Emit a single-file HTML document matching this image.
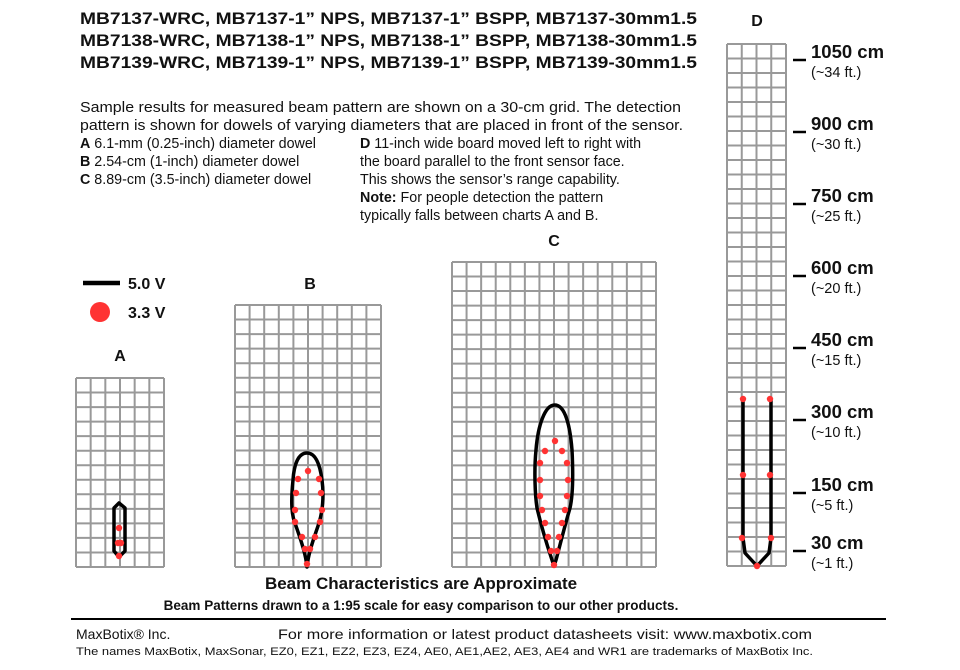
<!DOCTYPE html>
<html><head><meta charset="utf-8"><style>
html,body{margin:0;padding:0;background:#fff;}
svg{display:block;font-family:"Liberation Sans",Arial,sans-serif;}
</style></head><body>
<svg id="s" width="960" height="670" viewBox="0 0 960 670" xmlns="http://www.w3.org/2000/svg">
<g font-weight="bold" font-size="16.5" fill="#111">
<text x="80" y="24" textLength="617" lengthAdjust="spacingAndGlyphs">MB7137-WRC, MB7137-1” NPS, MB7137-1” BSPP, MB7137-30mm1.5</text>
<text x="80" y="46" textLength="617" lengthAdjust="spacingAndGlyphs">MB7138-WRC, MB7138-1” NPS, MB7138-1” BSPP, MB7138-30mm1.5</text>
<text x="80" y="68" textLength="617" lengthAdjust="spacingAndGlyphs">MB7139-WRC, MB7139-1” NPS, MB7139-1” BSPP, MB7139-30mm1.5</text>
</g>
<g font-size="14.3" fill="#111">
<text x="80" y="112" textLength="601" lengthAdjust="spacingAndGlyphs">Sample results for measured beam pattern are shown on a 30-cm grid. The detection</text>
<text x="80" y="130" textLength="603" lengthAdjust="spacingAndGlyphs">pattern is shown for dowels of varying diameters that are placed in front of the sensor.</text>
<text x="80" y="148"><tspan font-weight="bold">A</tspan> 6.1-mm (0.25-inch) diameter dowel</text>
<text x="80" y="166"><tspan font-weight="bold">B</tspan> 2.54-cm (1-inch) diameter dowel</text>
<text x="80" y="184"><tspan font-weight="bold">C</tspan> 8.89-cm (3.5-inch) diameter dowel</text>
<text x="360" y="148"><tspan font-weight="bold">D</tspan> 11-inch wide board moved left to right with</text>
<text x="360" y="166">the board parallel to the front sensor face.</text>
<text x="360" y="184">This shows the sensor’s range capability.</text>
<text x="360" y="202"><tspan font-weight="bold">Note:</tspan> For people detection the pattern</text>
<text x="360" y="220">typically falls between charts A and B.</text>
</g>
<g font-weight="bold" font-size="16" fill="#111">
<text x="120" y="361" text-anchor="middle">A</text>
<text x="310" y="289" text-anchor="middle">B</text>
<text x="554" y="246" text-anchor="middle">C</text>
<text x="757" y="26" text-anchor="middle">D</text>
<text x="128" y="289">5.0 V</text>
<text x="128" y="318">3.3 V</text>
</g>
<line x1="83" y1="283" x2="120" y2="283" stroke="#000" stroke-width="4.5"/>
<circle cx="100" cy="312" r="10" fill="#f33"/>
<g id="grids" stroke="#999" stroke-width="2" fill="none"></g>
<g id="ticks"></g>
<g fill="none" stroke="#000" stroke-width="3.5" stroke-linejoin="round">
<path d="M114,508 L119,503 L125,508 L125,551 L119,557 L114,551 Z"/>
<path d="M307,453 C298,453 294,465 293,480 C291,500 291,515 296,526 C300,538 304,548 306,560 L307,567 L308,560 C310,548 314,538 318,526 C323,512 324,495 322,480 C320,465 316,453 307,453 Z"/>
<path d="M554.7,405 C545,405 538,425 536,450 C534,470 535,495 537,508 C541,525 547,545 552,560 L554,566 L556,560 C560,545 565,525 570,508 C573,495 573,470 572,450 C570,425 565,405 554.7,405 Z"/>
<path d="M743,399 L743,538 L745,553 L757,566 L769,553 L771,538 L771,399"/>
</g>
<g fill="#f33" id="dots"></g>
<g font-weight="bold" fill="#111">
<text x="421" y="589" font-size="17" text-anchor="middle">Beam Characteristics are Approximate</text>
<text x="421" y="610" font-size="13.5" text-anchor="middle">Beam Patterns drawn to a 1:95 scale for easy comparison to our other products.</text>
</g>
<line x1="71" y1="619" x2="886" y2="619" stroke="#000" stroke-width="2"/>
<g fill="#111">
<text x="76" y="639" font-size="14">MaxBotix® Inc.</text>
<text x="278" y="639" font-size="14" textLength="534" lengthAdjust="spacingAndGlyphs">For more information or latest product datasheets visit:  www.maxbotix.com</text>
<text x="76" y="655" font-size="11" textLength="737" lengthAdjust="spacingAndGlyphs">The names MaxBotix, MaxSonar, EZ0, EZ1, EZ2, EZ3, EZ4, AE0, AE1,AE2, AE3, AE4 and WR1 are trademarks of MaxBotix Inc.</text>
</g>
<script>
var NS="http://www.w3.org/2000/svg";
function el(p,t,a,txt){var e=document.createElementNS(NS,t);for(var k in a)e.setAttribute(k,a[k]);if(txt)e.textContent=txt;p.appendChild(e);return e;}
var g=document.getElementById('grids');
function grid(x0,x1,y0,y1,nx,ny){var d='';for(var i=0;i<=nx;i++){var x=x0+(x1-x0)*i/nx;d+='M'+x+','+y0+'V'+y1;}for(var j=0;j<=ny;j++){var y=y0+(y1-y0)*j/ny;d+='M'+x0+','+y+'H'+x1;}el(g,'path',{d:d});}
grid(76,164,378,567,6,13);
grid(235,381,305,567,10,18);
grid(452,656,262,567,14,21);
grid(727,786,44,566,4,36);
var tk=document.getElementById('ticks');
var T=[[58,'1050 cm','(~34 ft.)'],[130,'900 cm','(~30 ft.)'],[202,'750 cm','(~25 ft.)'],[274,'600 cm','(~20 ft.)'],[346,'450 cm','(~15 ft.)'],[418,'300 cm','(~10 ft.)'],[491,'150 cm','(~5 ft.)'],[549,'30 cm','(~1 ft.)']];
T.forEach(function(t){el(tk,'line',{x1:793,x2:806,y1:t[0]+2,y2:t[0]+2,stroke:'#000','stroke-width':2.5});
el(tk,'text',{x:811,y:t[0],'font-size':18.5,'font-weight':'bold',fill:'#111'},t[1]);
el(tk,'text',{x:811,y:t[0]+19,'font-size':14.5,fill:'#111'},t[2]);});
var D=[[119,528],[118,543],[121,543],[119,556],
[308,471],[298,479],[319,479],[296,493],[321,493],[295,510],[322,510],[295,522],[320,522],[302,537],[315,537],[305,549],[310,549],[307,564],
[555,441],[545,451],[562,451],[540,463],[567,463],[540,480],[568,480],[540,496],[567,496],[542,510],[565,510],[545,523],[562,523],[548,537],[559,537],[551,551],[557,551],[554,565],
[743,399],[770,399],[743,475],[770,475],[742,538],[771,538],[757,566]];
var dg=document.getElementById('dots');
D.forEach(function(p){el(dg,'circle',{cx:p[0],cy:p[1],r:3.2});});
</script>
</svg>
</body></html>
